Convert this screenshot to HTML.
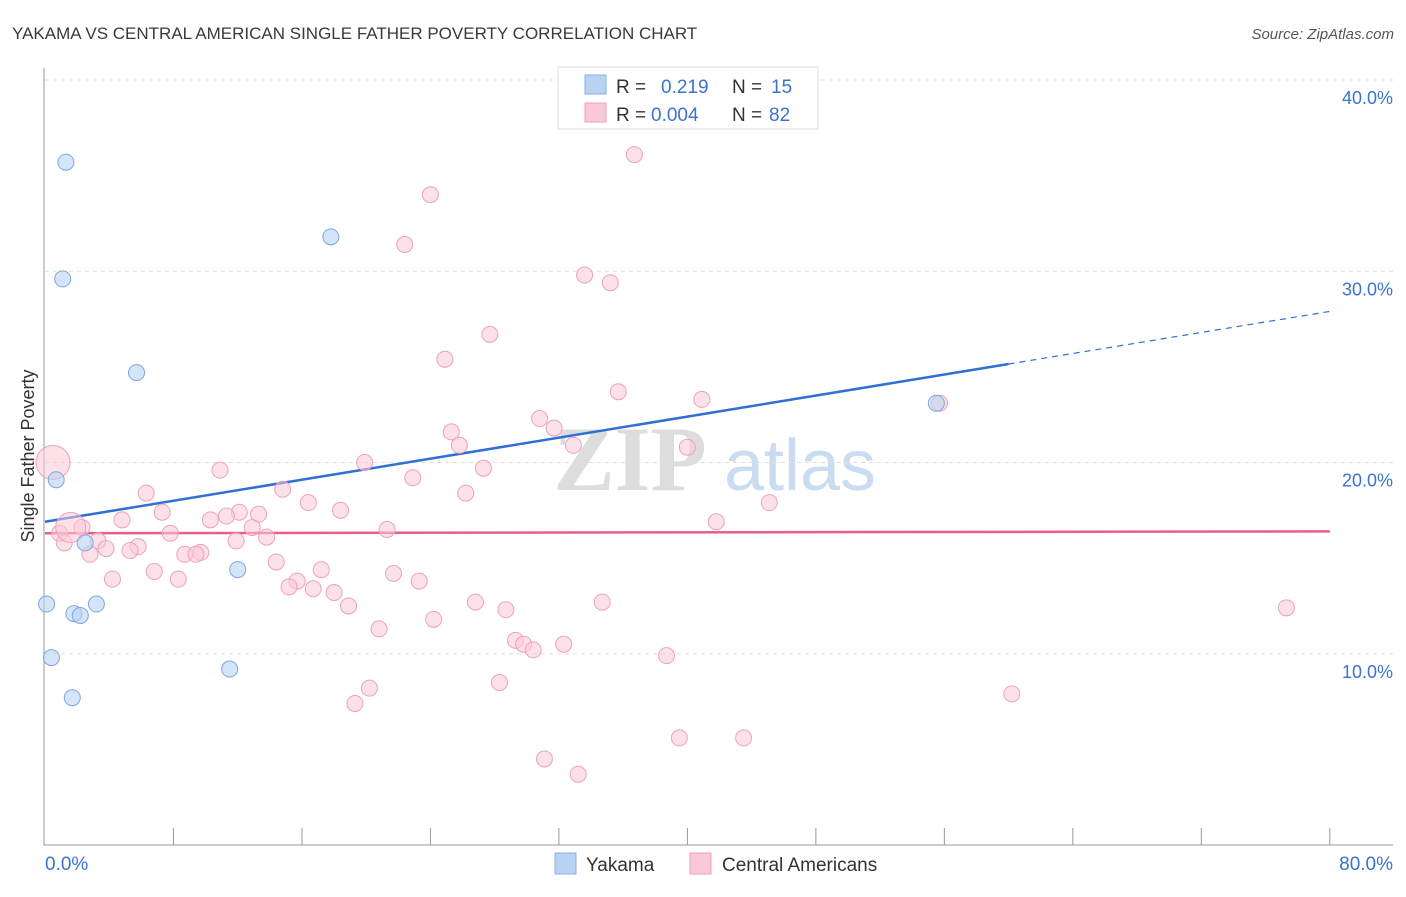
<!DOCTYPE html>
<html><head><meta charset="utf-8"><style>
body{margin:0;background:#fff;font-family:"Liberation Sans",sans-serif;}
</style></head><body>
<svg id="chart" width="1406" height="892" xmlns="http://www.w3.org/2000/svg">
<text x="12" y="39" font-size="17" fill="#3a3a3a">YAKAMA VS CENTRAL AMERICAN SINGLE FATHER POVERTY CORRELATION CHART</text>
<text x="1394" y="39" font-size="15" fill="#555" font-style="italic" text-anchor="end">Source: ZipAtlas.com</text>
<text x="34" y="456" font-size="18" fill="#333" text-anchor="middle" transform="rotate(-90 34 456)">Single Father Poverty</text>
<g><text x="630" y="490" font-size="92" fill="#ddd" font-family="Liberation Serif" font-weight="bold" text-anchor="middle">ZIP</text><text x="800" y="490" font-size="72" fill="#c9dcf0" text-anchor="middle">atlas</text></g>
<g id="grid"></g><g id="axes"></g><g id="lines"></g><g id="pts"></g>
<g>
<rect x="558" y="67" width="260" height="62" fill="#fff" stroke="#ddd"/>
<rect x="585" y="75" width="21" height="19" fill="#b9d3f5" stroke="#8ab0e0"/>
<rect x="585" y="103" width="21" height="19" fill="#fbc8d7" stroke="#eca2b8"/>
<text x="616" y="93" font-size="19" fill="#333">R = </text><text x="661" y="93" font-size="19" fill="#3a73d1">0.219</text>
<text x="732" y="93" font-size="19" fill="#333">N = </text><text x="771" y="93" font-size="19" fill="#3a73d1">15</text>
<text x="616" y="121" font-size="19" fill="#333">R = </text><text x="651" y="121" font-size="19" fill="#3a73d1">0.004</text>
<text x="732" y="121" font-size="19" fill="#333">N = </text><text x="769" y="121" font-size="19" fill="#3a73d1">82</text>
</g>
<g>
<rect x="555" y="853" width="21" height="21" fill="#b9d3f5" stroke="#8ab0e0"/>
<text x="586" y="871" font-size="19" fill="#333">Yakama</text>
<rect x="690" y="853" width="21" height="21" fill="#fbc8d7" stroke="#eca2b8"/>
<text x="722" y="871" font-size="19" fill="#333">Central Americans</text>
</g>
</svg>
<script>
const yTicks=[10,20,30,40];
const xLabels=["0.0%","80.0%"];
const blueX=[1.3,1.1,17.8,5.7,0.7,2.5,12.0,0.1,3.2,1.8,2.2,0.4,1.7,11.5,55.5];
const blueY=[35.7,29.6,31.8,24.7,19.1,15.8,14.4,12.6,12.6,12.1,12.0,9.8,7.7,9.2,23.1];
const pinkX=[36.7,24.0,22.4,33.6,35.2,27.7,24.9,35.7,40.9,55.7,30.8,31.7,25.3,32.9,25.8,40.0,10.9,19.9,27.3,22.9,26.2,6.3,14.8,45.1,16.4,7.3,18.4,12.1,13.3,4.8,10.3,11.3,41.8,12.9,21.3,7.8,2.3,0.9,1.2,3.3,5.8,3.8,5.3,2.8,11.9,13.8,9.7,8.7,9.4,14.4,6.8,17.2,4.2,8.3,21.7,15.7,15.2,16.7,23.3,18.0,18.9,26.8,28.7,34.7,77.3,24.2,20.8,29.3,29.8,30.4,32.3,38.7,20.2,28.3,19.3,60.2,39.5,43.5,31.1,33.2,0.5,1.6];
const pinkY=[36.1,34.0,31.4,29.8,29.4,26.7,25.4,23.7,23.3,23.1,22.3,21.8,21.6,20.9,20.9,20.8,19.6,20.0,19.7,19.2,18.4,18.4,18.6,17.9,17.9,17.4,17.5,17.4,17.3,17.0,17.0,17.2,16.9,16.6,16.5,16.3,16.6,16.3,15.8,15.9,15.6,15.5,15.4,15.2,15.9,16.1,15.3,15.2,15.2,14.8,14.3,14.4,13.9,13.9,14.2,13.8,13.5,13.4,13.8,13.2,12.5,12.7,12.3,12.7,12.4,11.8,11.3,10.7,10.5,10.2,10.5,9.9,8.2,8.5,7.4,7.9,5.6,5.6,4.5,3.7,20.0,16.6];
const pinkR=Array(80).fill(8).concat([17,15]);
const blueTrend=[16.9,27.9];
const pinkTrend=[16.3,16.4];
const NS="http://www.w3.org/2000/svg";
const X=v=>45+v*16.06, Y=v=>845-v*19.125;
function mk(t,a,p){const e=document.createElementNS(NS,t);for(const k in a)e.setAttribute(k,a[k]);p.appendChild(e);return e;}
const grid=document.getElementById('grid'),axes=document.getElementById('axes'),lines=document.getElementById('lines'),pts=document.getElementById('pts');
yTicks.forEach(t=>{
 const l=mk('line',{x1:45,x2:1393,y1:Y(t),y2:Y(t),stroke:'#ddd','stroke-dasharray':'4,4'},grid);
 
 
 const tx=mk('text',{x:1393,y:Y(t)+24,'font-size':18,fill:'#3a73d1','text-anchor':'end'},grid);
 tx.textContent=t.toFixed(1)+'%';
 
 
});
const ax=mk('path',{d:'M44 68V845H1393',fill:'none',stroke:'#999'},axes);


for(let i=1;i<=10;i++){const tk=mk('line',{x1:X(i*8),x2:X(i*8),y1:828,y2:845,stroke:'#999'},axes);
 
 }
const l0=mk('text',{x:45,y:870,'font-size':19,fill:'#3a73d1'},axes);l0.textContent=xLabels[0];


const l1=mk('text',{x:1393,y:870,'font-size':19,fill:'#3a73d1','text-anchor':'end'},axes);l1.textContent=xLabels[1];


pinkX.forEach((x,i)=>{const c=mk('circle',{cx:X(x),cy:Y(pinkY[i]),r:pinkR[i],fill:'#fbc8d7','fill-opacity':0.55,stroke:'#eca2b8','stroke-width':1},pts);
 
 });
blueX.forEach((x,i)=>{const c=mk('circle',{cx:X(x),cy:Y(blueY[i]),r:8,fill:'#b9d3f5','fill-opacity':0.6,stroke:'#7fa6dc','stroke-width':1},pts);
 
 });
const bt=v=>blueTrend[0]+(blueTrend[1]-blueTrend[0])*v/80;
const b1=mk('line',{x1:X(0),y1:Y(bt(0)),x2:X(60),y2:Y(bt(60)),stroke:'#2f6fd6','stroke-width':2.5},lines);


const b2=mk('line',{x1:X(60),y1:Y(bt(60)),x2:X(80),y2:Y(bt(80)),stroke:'#2f6fd6','stroke-width':1.2,'stroke-dasharray':'6,5'},lines);


const p1=mk('line',{x1:X(0),y1:Y(pinkTrend[0]),x2:X(80),y2:Y(pinkTrend[1]),stroke:'#e8608a','stroke-width':2.5},lines);


</script>
</body></html>
